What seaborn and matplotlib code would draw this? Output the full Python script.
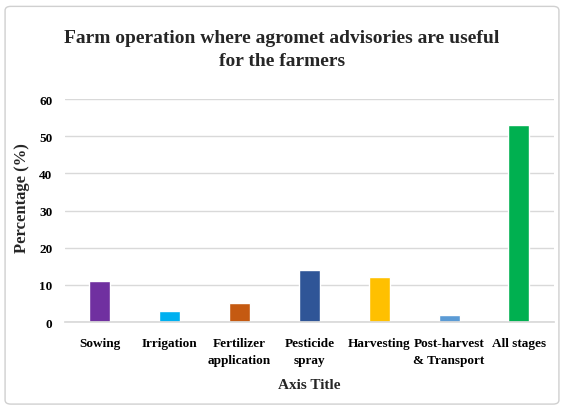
import matplotlib
matplotlib.use("Agg")
import matplotlib.pyplot as plt
import seaborn as sns
import pandas as pd
from matplotlib.patches import FancyBboxPatch

categories = ["Sowing", "Irrigation", "Fertilizer\napplication", "Pesticide\nspray",
              "Harvesting", "Post-harvest\n& Transport", "All stages"]
percentages = [11, 3, 5, 14, 12, 2, 53]
bar_colors = ["#7030A0", "#00B0F0", "#C55A11", "#2F5597", "#FFC000", "#5B9BD5", "#00B050"]
y_ticks = [0, 10, 20, 30, 40, 50, 60]

sns.set_theme(style="white")
plt.rcParams["font.family"] = ["Liberation Serif", "DejaVu Serif"]
plt.rcParams["font.weight"] = "bold"

df = pd.DataFrame({"operation": categories, "pct": percentages})

fig = plt.figure(figsize=(5.64, 4.10), dpi=100)
ax = fig.add_axes([0.115, 0.212, 0.867, 0.544])

sns.barplot(data=df, x="operation", y="pct", hue="operation", palette=bar_colors,
            width=0.3, legend=False, ax=ax, saturation=1)

ax.set_ylim(0, 60)
ax.set_yticks(y_ticks)
ax.set_xlim(-0.5, len(categories) - 0.5)
ax.yaxis.grid(True, color="#d9d9d9", linewidth=1)
ax.set_axisbelow(True)
for side in ["top", "right", "left"]:
    ax.spines[side].set_visible(False)
ax.spines["bottom"].set_color("#d9d9d9")
ax.tick_params(axis="both", length=0, labelsize=9.5, colors="black")
ax.tick_params(axis="x", pad=11)
ax.tick_params(axis="y", pad=9)
for lbl in ax.get_xticklabels() + ax.get_yticklabels():
    lbl.set_fontweight("bold")
for lbl in ax.get_xticklabels():
    lbl.set_linespacing(1.5)

ax.set_xlabel("Axis Title", fontsize=11, fontweight="bold", labelpad=9)
ax.set_ylabel("Percentage (%)", fontsize=12, fontweight="bold")
ax.yaxis.set_label_coords(-0.072, 0.56)

fig.text(0.5, 0.878, "Farm operation where agromet advisories are useful\nfor the farmers",
         ha="center", va="center", fontsize=14, fontweight="bold", linespacing=1.4)

# light frame around the whole chart
frame = FancyBboxPatch((0.009, 0.012), 0.982, 0.97, boxstyle="round,pad=0,rounding_size=0.01",
                       transform=fig.transFigure, fill=False, edgecolor="#d0d0d0", linewidth=1)
fig.patches.append(frame)

fig.savefig("out.png", dpi=100)
